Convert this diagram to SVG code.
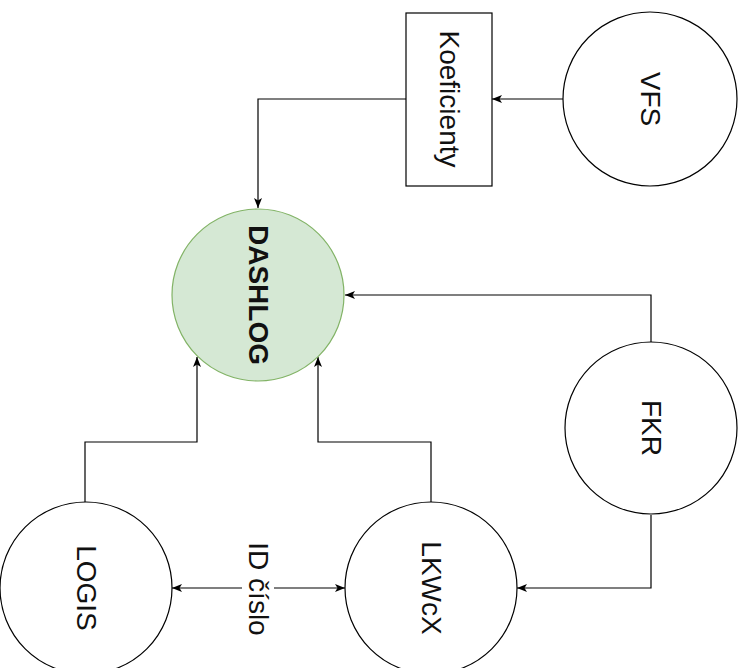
<svg xmlns="http://www.w3.org/2000/svg" width="747" height="668" viewBox="0 0 747 668">
  <style>
    .node { fill: #ffffff; stroke: #000000; stroke-width: 1.2; }
    .main { fill: #d5e8d4; stroke: #82b366; stroke-width: 1.2; }
    .edge { fill: none; stroke: #000000; stroke-width: 1.2; }
    .label { font-family: "Liberation Sans", Arial, sans-serif; font-size: 28px; fill: #111111; text-anchor: middle; dominant-baseline: central; }
    .bold { font-weight: bold; }
  </style>
  <defs>
    <marker id="arrow" viewBox="0 0 10 10" refX="10" refY="5" markerWidth="10" markerHeight="10" markerUnits="userSpaceOnUse" orient="auto-start-reverse">
      <path d="M0,1 L10,5 L0,9 L2.5,5 Z" fill="#000000"/>
    </marker>
  </defs>

  <rect width="747" height="668" fill="#ffffff"/>

  <g id="connectors">
    <!-- Koeficienty to DASHLOG -->
    <path class="edge" d="M406,99 H258 V208" marker-end="url(#arrow)"/>
    <!-- VFS to Koeficienty -->
    <path class="edge" d="M563,99 H492" marker-end="url(#arrow)"/>
    <!-- FKR to DASHLOG -->
    <path class="edge" d="M651,342 V295 H345" marker-end="url(#arrow)"/>
    <!-- FKR to LKWcX -->
    <path class="edge" d="M651,515 V588 H517" marker-end="url(#arrow)"/>
    <!-- LOGIS to DASHLOG -->
    <path class="edge" d="M85,502 V442 H197 V357" marker-end="url(#arrow)"/>
    <!-- LKWcX to DASHLOG -->
    <path class="edge" d="M431,502 V442 H318 V357" marker-end="url(#arrow)"/>
    <!-- LOGIS <-> LKWcX -->
    <path class="edge" d="M172,588 H345" marker-start="url(#arrow)" marker-end="url(#arrow)"/>
    <rect x="242" y="538" width="32" height="102" fill="#ffffff"/>
    <text class="label" transform="translate(258,589) rotate(90)">ID číslo</text>
  </g>

  <g id="dashlog">
    <circle class="main" cx="258" cy="295" r="86"/>
    <text class="label bold" transform="translate(258,295) rotate(90)">DASHLOG</text>
  </g>

  <g id="koeficienty">
    <rect class="node" x="406" y="13" width="86" height="173"/>
    <text class="label" transform="translate(449,99) rotate(90)">Koeficienty</text>
  </g>

  <g id="vfs">
    <circle class="node" cx="650" cy="99" r="87"/>
    <text class="label" transform="translate(650,99) rotate(90)">VFS</text>
  </g>

  <g id="fkr">
    <circle class="node" cx="651" cy="428" r="86"/>
    <text class="label" transform="translate(651,428) rotate(90)">FKR</text>
  </g>

  <g id="logis">
    <circle class="node" cx="86" cy="588" r="86"/>
    <text class="label" transform="translate(86,588) rotate(90)">LOGIS</text>
  </g>

  <g id="lkwcx">
    <circle class="node" cx="431" cy="588" r="86"/>
    <text class="label" transform="translate(431,588) rotate(90)">LKWcX</text>
  </g>
</svg>
